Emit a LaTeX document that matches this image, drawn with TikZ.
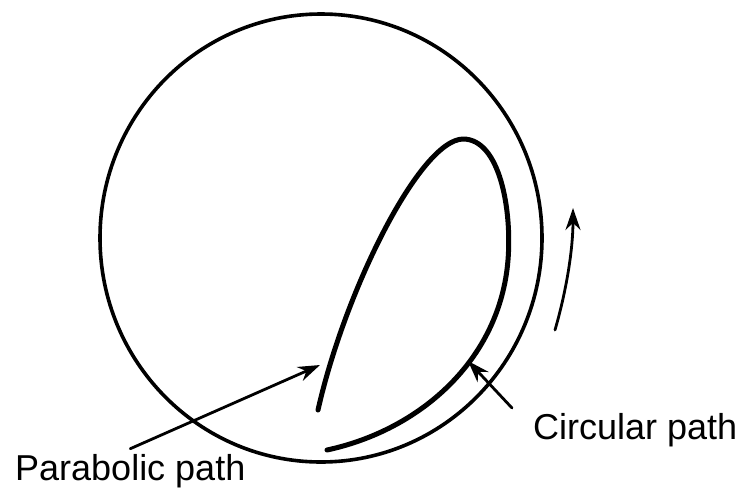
\documentclass[tikz,border=0pt]{standalone}
\usepackage{fontspec}
\setmainfont{Liberation Sans}
\usetikzlibrary{arrows.meta}

\begin{document}
\begin{tikzpicture}[
    x=1pt, y=-1pt,
    font=\fontsize{36}{43}\selectfont,
    rim/.style={line width=3.6pt},
    trace/.style={line width=5pt, line cap=round, line join=round},
    arrow/.style={line width=2.8pt, line cap=round, -{Stealth[length=22pt, width=15pt]}},
    caption/.style={inner sep=2pt, anchor=base west}
]
    \useasboundingbox (0,0) rectangle (744,488);

    % drum wall and the path of the charge
    \draw[rim] (321,238) ellipse [x radius=221, y radius=224];
    \draw[trace] (318,410) .. controls (345,290) and (420,140) .. (463,139)
        .. controls (500,139) and (512,210) .. (508,260)
        .. controls (500,360) and (420,430) .. (327,450);

    \node[caption] (parab) at (13,480) {Parabolic path};
    \node[caption] (circ) at (531,439) {Circular path};

    \coordinate (ptip) at (320,365);
    \coordinate (ctip) at (468,361);
    \coordinate (ctail) at (512,408);
    \coordinate (rtail) at (555,330);
    \coordinate (rtip) at (573,208);

    \draw[arrow] ([yshift=3pt]parab.north) -- (ptip);
    \draw[arrow] (ctail) -- (ctip);
    \draw[arrow] (rtail) .. controls (568,285) and (573,245) .. (rtip);

\end{tikzpicture}
\end{document}
